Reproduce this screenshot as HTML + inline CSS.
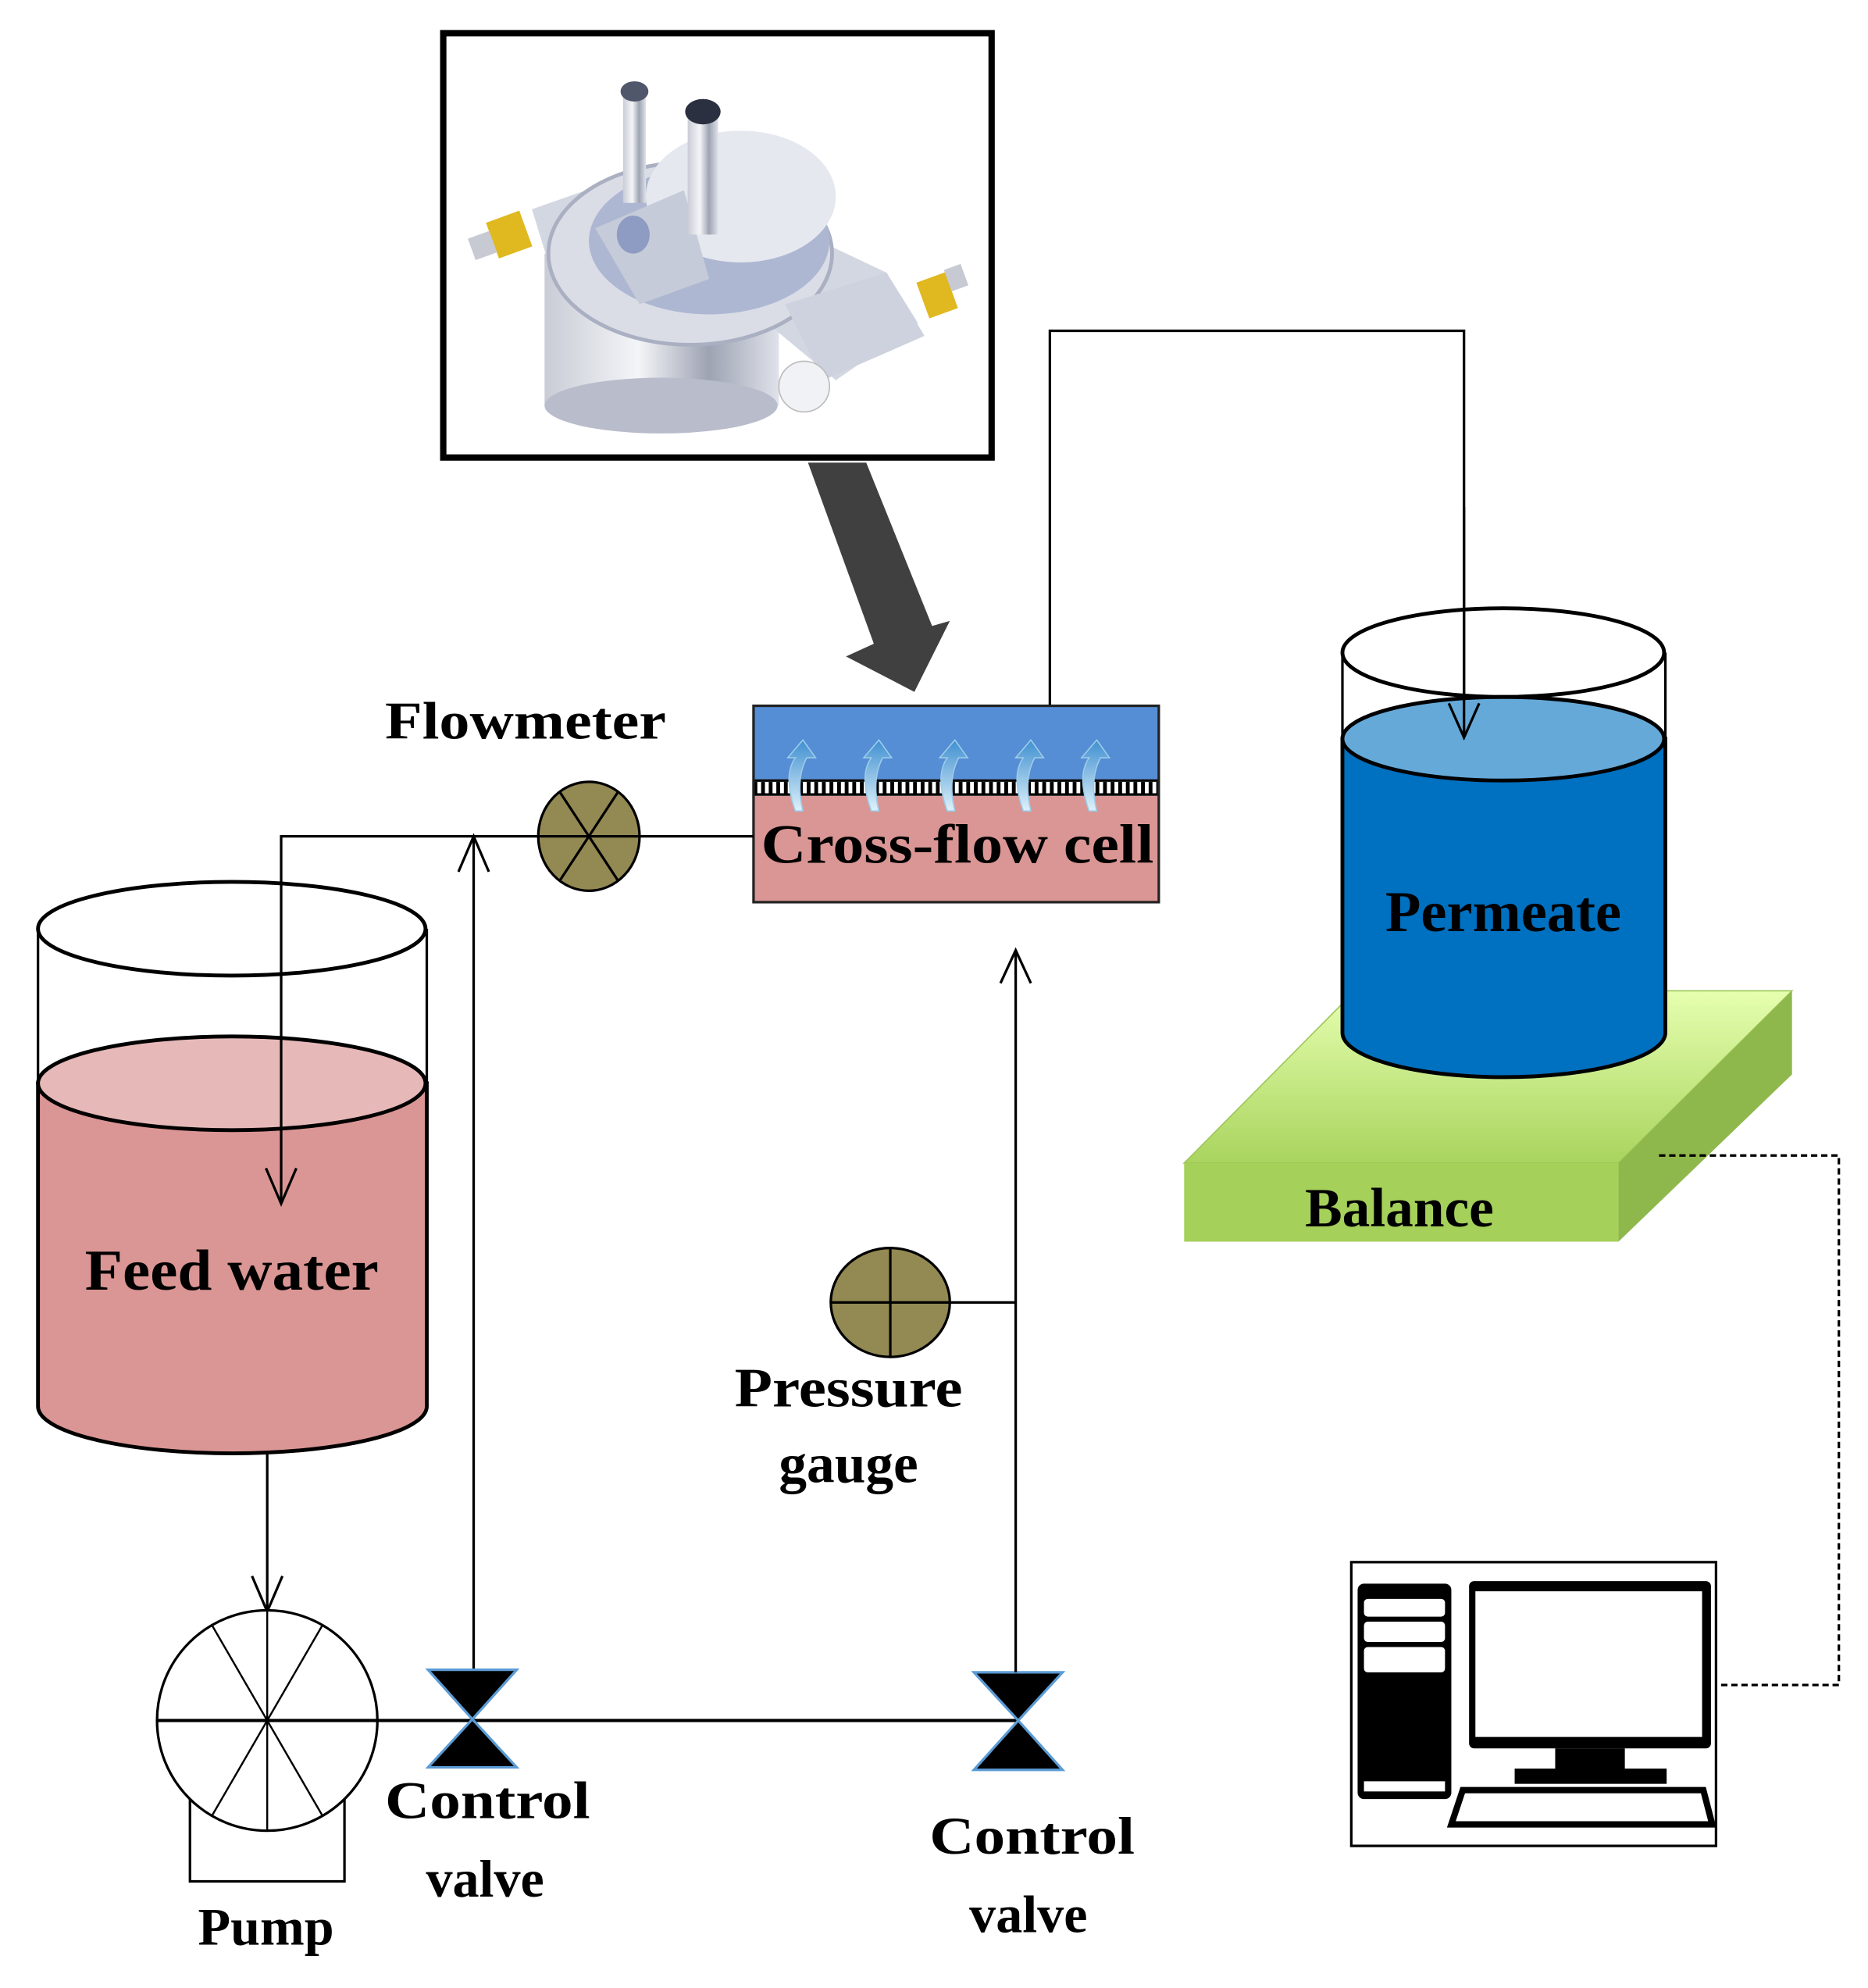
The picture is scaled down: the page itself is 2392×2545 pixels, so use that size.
<!DOCTYPE html>
<html><head><meta charset="utf-8"><style>
html,body{margin:0;padding:0;background:#fff;}
svg{display:block;}
text{font-family:"Liberation Serif",serif;font-weight:bold;fill:#000;}
</style></head><body>
<svg width="2392" height="2545" viewBox="0 0 1475 1569" xmlns="http://www.w3.org/2000/svg">
<defs>
<linearGradient id="met" x1="0" x2="1" y1="0" y2="0">
<stop offset="0" stop-color="#c9ccd6"/><stop offset="0.4" stop-color="#f4f5f8"/><stop offset="0.7" stop-color="#9ea3b3"/><stop offset="1" stop-color="#dfe2ea"/></linearGradient>
<linearGradient id="grn" x1="0" x2="0" y1="0" y2="1"><stop offset="0" stop-color="#e6ffb0"/><stop offset="1" stop-color="#a9d45e"/></linearGradient>
<linearGradient id="blu" x1="0" x2="0" y1="1" y2="0"><stop offset="0" stop-color="#dff2fb"/><stop offset="1" stop-color="#3f8fd0"/></linearGradient>
</defs>
<rect width="1475" height="1569" fill="#fff"/>
<rect x="350" y="26" width="433" height="335" fill="#fff" stroke="#000" stroke-width="5"/>
<g>
<rect x="430" y="200" width="185" height="120" fill="url(#met)"/>
<ellipse cx="522" cy="320" rx="92" ry="22" fill="#b8bccb"/>
<path d="M420 165 L520 130 L700 215 L725 255 L660 300 L600 250 L440 230Z" fill="#d3d7e2"/>
<ellipse cx="545" cy="200" rx="112" ry="72" fill="#dadde6" stroke="#aab0c2" stroke-width="3"/>
<ellipse cx="560" cy="190" rx="95" ry="58" fill="#aeb7d2"/>
<ellipse cx="585" cy="155" rx="75" ry="52" fill="#e6e8ef"/>
<path d="M470 180 L540 150 L560 220 L505 240Z" fill="#c6cbd9"/>
<ellipse cx="500" cy="185" rx="13" ry="15" fill="#8e9bc2"/>
<rect x="492" y="70" width="18" height="90" fill="url(#met)"/>
<ellipse cx="501" cy="72" rx="11" ry="8" fill="#50576b"/>
<rect x="543" y="85" width="24" height="100" fill="url(#met)"/>
<ellipse cx="555" cy="88" rx="14" ry="10" fill="#2b3040"/>
<path d="M620 240 L700 215 L730 265 L650 300Z" fill="#ced2de"/>
<circle cx="635" cy="305" r="20" fill="#f1f2f5" stroke="#bbb"/>
<rect x="388" y="170" width="28" height="30" fill="#e0b820" transform="rotate(-20 402 185)"/>
<rect x="372" y="185" width="18" height="18" fill="#c7cad3" transform="rotate(-20 380 194)"/>
<rect x="728" y="218" width="24" height="30" fill="#e0b820" transform="rotate(-20 740 233)"/>
<rect x="748" y="210" width="14" height="18" fill="#c7cad3" transform="rotate(-20 755 219)"/>
</g>
<path d="M638 365 L684 365 L736 494 L750 490 L722 546 L668 518 L690 508 Z" fill="#404040"/>
<rect x="595" y="557" width="320" height="58" fill="#558ed5"/>
<rect x="595" y="628" width="320" height="84" fill="#da9694"/>
<rect x="595" y="615" width="320" height="13" fill="#fff"/>
<line x1="595" y1="616" x2="915" y2="616" stroke="#000" stroke-width="2"/>
<line x1="595" y1="627" x2="915" y2="627" stroke="#000" stroke-width="2"/>
<line x1="595" y1="621.5" x2="915" y2="621.5" stroke="#000" stroke-width="9" stroke-dasharray="3 3"/>
<g fill="url(#blu)" stroke="#9ccbe8" stroke-width="1">
<path d="M628 640 Q618 612 628 598 L622 598 L634 584 L644 598 L637 598 Q628 615 634 640Z"/>
<path d="M688 640 Q678 612 688 598 L682 598 L694 584 L704 598 L697 598 Q688 615 694 640Z"/>
<path d="M748 640 Q738 612 748 598 L742 598 L754 584 L764 598 L757 598 Q748 615 754 640Z"/>
<path d="M808 640 Q798 612 808 598 L802 598 L814 584 L824 598 L817 598 Q808 615 814 640Z"/>
<path d="M860 640 Q850 612 860 598 L854 598 L866 584 L876 598 L869 598 Q860 615 866 640Z"/>
</g>
<rect x="595" y="557" width="320" height="155" fill="none" stroke="#222" stroke-width="2"/>
<text x="756" y="681" font-size="44" text-anchor="middle" textLength="310" lengthAdjust="spacingAndGlyphs">Cross-flow cell</text>
<text x="415" y="583" font-size="42" text-anchor="middle" textLength="222" lengthAdjust="spacingAndGlyphs">Flowmeter</text>
<polyline points="829,556 829,261 1156,261 1156,580" fill="none" stroke="#000" stroke-width="2"/>
<polygon points="935,918 1070,782 1415,782 1278,918" fill="url(#grn)" stroke="#9ec55a"/>
<polygon points="1278,918 1415,782 1415,848 1278,980" fill="#8fb84c"/>
<rect x="935" y="918" width="343" height="62" fill="#a5d05a"/>
<text x="1105" y="968" font-size="44" text-anchor="middle">Balance</text>
<path d="M1060 583 L1060 815 A127 35 0 0 0 1315 815 L1315 583Z" fill="#0070c0" stroke="#000" stroke-width="3"/>
<ellipse cx="1187" cy="583" rx="127" ry="33" fill="#65a9d9" stroke="#000" stroke-width="3"/>
<ellipse cx="1187" cy="515" rx="127" ry="35" fill="none" stroke="#000" stroke-width="3"/>
<line x1="1060" y1="515" x2="1060" y2="583" stroke="#000" stroke-width="2"/>
<line x1="1315" y1="515" x2="1315" y2="583" stroke="#000" stroke-width="2"/>
<line x1="1156" y1="400" x2="1156" y2="580" stroke="#000" stroke-width="2"/>
<polyline points="1144,555 1156,582 1168,555" fill="none" stroke="#000" stroke-width="2"/>
<text x="1187" y="735" font-size="46" text-anchor="middle">Permeate</text>
<polyline points="1310,912 1452,912 1452,1330 1352,1330" fill="none" stroke="#000" stroke-width="2" stroke-dasharray="5 3"/>
<rect x="1067" y="1233" width="288" height="224" fill="#fff" stroke="#000" stroke-width="2"/>
<rect x="1072" y="1250" width="74" height="170" rx="5" fill="#000"/>
<rect x="1077" y="1262" width="64" height="14" rx="3" fill="#fff"/>
<rect x="1077" y="1280" width="64" height="16" rx="3" fill="#fff"/>
<rect x="1077" y="1300" width="64" height="20" rx="3" fill="#fff"/>
<rect x="1077" y="1406" width="64" height="8" fill="#fff"/>
<rect x="1160" y="1248" width="191" height="132" rx="4" fill="#000"/>
<rect x="1165" y="1256" width="179" height="115" fill="#fff"/>
<rect x="1228" y="1380" width="55" height="20" fill="#000"/>
<rect x="1196" y="1396" width="120" height="12" fill="#000"/>
<path d="M1155 1413 L1345 1413 L1352 1440 L1146 1440Z" fill="#fff" stroke="#000" stroke-width="5"/>
<path d="M30 855 L30 1110 A153 37 0 0 0 337 1110 L337 855Z" fill="#da9694" stroke="#000" stroke-width="3"/>
<ellipse cx="183" cy="855" rx="153" ry="37" fill="#e6b9b8" stroke="#000" stroke-width="3"/>
<ellipse cx="183" cy="733" rx="153" ry="37" fill="none" stroke="#000" stroke-width="3"/>
<line x1="30" y1="733" x2="30" y2="855" stroke="#000" stroke-width="2"/>
<line x1="337" y1="733" x2="337" y2="855" stroke="#000" stroke-width="2"/>
<text x="183" y="1018" font-size="46" text-anchor="middle" textLength="232" lengthAdjust="spacingAndGlyphs">Feed water</text>
<polyline points="222,950 222,660 425,660" fill="none" stroke="#000" stroke-width="2"/>
<polyline points="210,922 222,950 234,922" fill="none" stroke="#000" stroke-width="2"/>
<line x1="505" y1="660" x2="595" y2="660" stroke="#000" stroke-width="2"/>
<ellipse cx="465" cy="660" rx="40" ry="43" fill="#938953" stroke="#000" stroke-width="2"/>
<line x1="425" y1="660" x2="505" y2="660" stroke="#000" stroke-width="2"/>
<line x1="442" y1="625" x2="488" y2="695" stroke="#000" stroke-width="2"/>
<line x1="488" y1="625" x2="442" y2="695" stroke="#000" stroke-width="2"/>
<line x1="374" y1="660" x2="374" y2="1320" stroke="#000" stroke-width="2"/>
<polyline points="362,688 374,660 386,688" fill="none" stroke="#000" stroke-width="2"/>
<line x1="211" y1="1148" x2="211" y2="1272" stroke="#000" stroke-width="2"/>
<polyline points="199,1244 211,1272 223,1244" fill="none" stroke="#000" stroke-width="2"/>
<polyline points="150,1412 150,1485 272,1485 272,1412" fill="none" stroke="#000" stroke-width="2"/>
<ellipse cx="211" cy="1358" rx="87" ry="87" fill="#fff" stroke="#000" stroke-width="2"/>
<g stroke="#000" stroke-width="1.5">
<line x1="211" y1="1271" x2="211" y2="1445"/>
<line x1="167.5" y1="1283" x2="254.5" y2="1433"/>
<line x1="167.5" y1="1433" x2="254.5" y2="1283"/>
</g>
<line x1="124" y1="1358" x2="803" y2="1358" stroke="#000" stroke-width="2.5"/>
<text x="210" y="1535" font-size="42" text-anchor="middle">Pump</text>
<g fill="#000" stroke="#5b9bd5" stroke-width="2">
<polygon points="338,1318 408,1318 373,1357"/>
<polygon points="373,1357 338,1395 408,1395"/>
<polygon points="769,1320 839,1320 804,1358"/>
<polygon points="804,1358 769,1397 839,1397"/>
</g>
<text x="385" y="1435" font-size="42" text-anchor="middle" textLength="162" lengthAdjust="spacingAndGlyphs">Control</text>
<text x="383" y="1497" font-size="42" text-anchor="middle">valve</text>
<text x="815" y="1463" font-size="42" text-anchor="middle" textLength="162" lengthAdjust="spacingAndGlyphs">Control</text>
<text x="812" y="1525" font-size="42" text-anchor="middle">valve</text>
<line x1="802" y1="750" x2="802" y2="1320" stroke="#000" stroke-width="2"/>
<polyline points="790,776 802,750 814,776" fill="none" stroke="#000" stroke-width="2"/>
<line x1="748" y1="1028" x2="802" y2="1028" stroke="#000" stroke-width="2"/>
<ellipse cx="703" cy="1028" rx="47" ry="43" fill="#938953" stroke="#000" stroke-width="2"/>
<line x1="656" y1="1028" x2="750" y2="1028" stroke="#000" stroke-width="2"/>
<line x1="703" y1="985" x2="703" y2="1071" stroke="#000" stroke-width="2"/>
<text x="670" y="1110" font-size="44" text-anchor="middle" textLength="180" lengthAdjust="spacingAndGlyphs">Pressure</text>
<text x="670" y="1170" font-size="44" text-anchor="middle">gauge</text>
</svg>
</body></html>
